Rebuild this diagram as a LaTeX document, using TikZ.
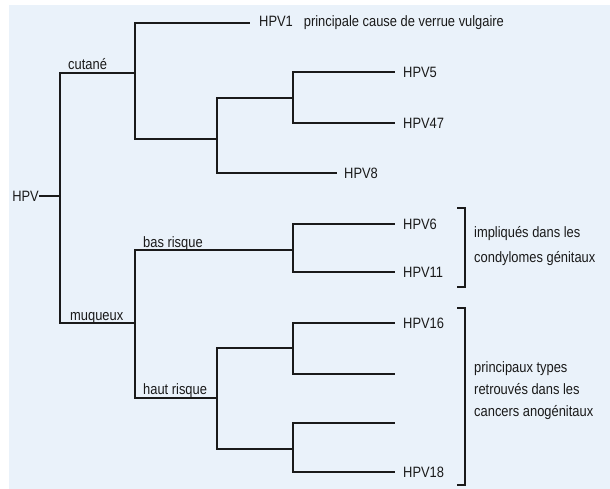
\documentclass[tikz,border=0pt]{standalone}
\usepackage{fontspec}
\setmainfont{Liberation Sans}[FakeStretch=0.86]
\usetikzlibrary{positioning}
\definecolor{bgblue}{HTML}{EAF2FA}
\definecolor{ink}{HTML}{1A1A1A}

\begin{document}
\begin{tikzpicture}[
  x=1pt, y=-1pt,
  branch/.style={draw=ink, line width=1.2pt},
  leaf/.style={font=\fontsize{15}{17}\selectfont, text=ink, inner sep=0pt},
  clade/.style={font=\fontsize{15}{17}\selectfont, text=ink, inner sep=0pt, anchor=base west},
  note/.style={font=\fontsize{15}{22}\selectfont, text=ink, inner sep=0pt, align=left, anchor=west},
  bracket/.style={draw=ink, line width=1.2pt},
]
  \useasboundingbox (0,0) rectangle (610,489);
  \fill[bgblue] (9,5) rectangle (610,489);

  % junctions of the tree
  \coordinate (j0) at (60,196);
  \coordinate (jc) at (135,73);
  \coordinate (jm) at (135,323);
  \coordinate (jc2) at (217,139);
  \coordinate (jc21) at (293,98);
  \coordinate (jb) at (293,250);
  \coordinate (jh) at (217,398);
  \coordinate (jh1) at (293,348);
  \coordinate (jh2) at (293,449);

  % leaf ends
  \coordinate (l1) at (250,23);
  \coordinate (l5) at (395,72);
  \coordinate (l47) at (395,123);
  \coordinate (l8) at (337,173);
  \coordinate (l6) at (395,224);
  \coordinate (l11) at (395,272);
  \coordinate (l16) at (395,323);
  \coordinate (la) at (395,374);
  \coordinate (lb) at (395,423);
  \coordinate (l18) at (395,472);

  \node[leaf, left=21pt of j0] (hpv) {HPV};
  \draw[branch] (hpv) -- (j0);

  \foreach \p/\c in {j0/jc, j0/jm, jc/l1, jc/jc2, jc2/jc21, jc2/l8, jc21/l5, jc21/l47,
                     jm/jb, jm/jh, jb/l6, jb/l11, jh/jh1, jh/jh2, jh1/l16, jh1/la, jh2/lb, jh2/l18}
    \draw[branch] (\p) |- (\c);

  % clade names
  \node[clade] (cut) at (68,70) {cutané};
  \node[clade] (muq) at (70,320) {muqueux};
  \node[clade] (bas) at (143,247) {bas risque};
  \node[clade] (haut) at (143,394) {haut risque};

  % types
  \node[leaf, right=9pt of l1] (t1) {HPV1\hspace{11pt}principale cause de verrue vulgaire};
  \node[leaf, right=8pt of l5] (t5) {HPV5};
  \node[leaf, right=8pt of l47] (t47) {HPV47};
  \node[leaf, right=7pt of l8] (t8) {HPV8};
  \node[leaf, right=8pt of l6] (t6) {HPV6};
  \node[leaf, right=8pt of l11] (t11) {HPV11};
  \node[leaf, right=8pt of l16] (t16) {HPV16};
  \node[leaf, right=8pt of l18] (t18) {HPV18};

  % brackets
  \coordinate (b1t) at (465,208);
  \coordinate (b1b) at (465,287);
  \coordinate (b2t) at (465,308);
  \coordinate (b2b) at (465,485);
  \draw[bracket] ([xshift=-8pt]b1t) -- (b1t) -- (b1b) -- ([xshift=-8pt]b1b);
  \draw[bracket] ([xshift=-8pt]b2t) -- (b2t) -- (b2b) -- ([xshift=-8pt]b2b);

  \node[note, font=\fontsize{15}{25}\selectfont] (n1) at (474,246) {impliqués dans les\\condylomes génitaux};
  \node[note] (n2) at (474,391) {principaux types\\retrouvés dans les\\cancers anogénitaux};
\end{tikzpicture}
\end{document}
